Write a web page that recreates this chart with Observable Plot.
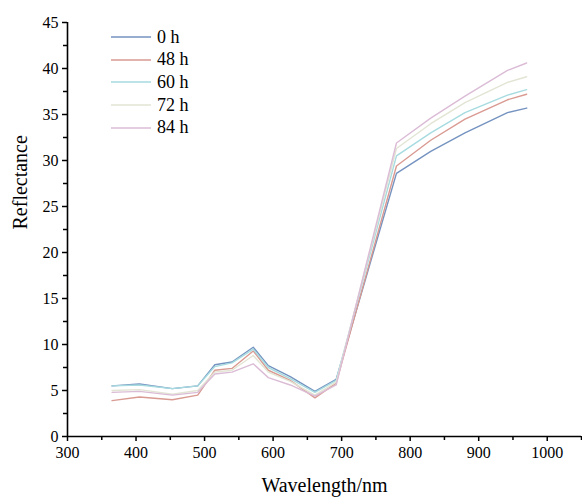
<!DOCTYPE html>
<html>
<head>
<meta charset="utf-8">
<script src="https://cdn.jsdelivr.net/npm/d3@7"></script>
<script src="https://cdn.jsdelivr.net/npm/@observablehq/plot@0.6"></script>
<style>
  html, body { margin: 0; padding: 0; background: #fff; }
  #wrap { position: relative; width: 582px; height: 502px; font-family: 'Liberation Serif', serif; }
  #legend { position: absolute; left: 111px; top: 26px; font-family: 'Liberation Serif', serif; }
  .item { display: flex; align-items: center; height: 22.6px; font-size: 18px; color: #000; }
  .item svg { margin-right: 6px; }
  svg text { font-family: 'Liberation Serif', serif; }
</style>
</head>
<body>
<div id="wrap"><div id="legend"></div></div>
<script>
const wavelengths = [365, 405, 453, 490, 515, 540, 571, 593, 625, 661, 692, 780, 830, 880, 942, 970];
const seriesNames = ["0 h", "48 h", "60 h", "72 h", "84 h"];
const r0  = [5.5, 5.7, 5.2, 5.5, 7.8, 8.1, 9.7, 7.7, 6.5, 4.9, 6.2, 28.6, 31.0, 33.0, 35.2, 35.7];
const r48 = [3.9, 4.3, 4.0, 4.5, 7.2, 7.4, 9.3, 7.2, 6.1, 4.2, 5.8, 29.4, 32.2, 34.5, 36.6, 37.2];
const r60 = [5.5, 5.6, 5.2, 5.5, 7.6, 8.0, 9.5, 7.5, 6.3, 4.8, 6.1, 30.5, 33.0, 35.2, 37.1, 37.7];
const r72 = [5.0, 5.1, 4.6, 5.0, 7.0, 7.2, 8.8, 7.0, 6.0, 4.5, 5.9, 31.3, 34.0, 36.3, 38.5, 39.1];
const r84 = [4.8, 4.9, 4.5, 4.8, 6.8, 7.0, 7.9, 6.4, 5.6, 4.4, 5.6, 31.9, 34.6, 37.0, 39.8, 40.6];
const seriesValues = [r0, r48, r60, r72, r84];
const colors = ["#7593c0", "#d99a92", "#a6dbe0", "#e2e4d4", "#dbbcd6"];
const xTicks = [300, 400, 500, 600, 700, 800, 900, 1000];
const xMinor = [350, 450, 550, 650, 750, 850, 950, 1050];
const yTicks = [0, 5, 10, 15, 20, 25, 30, 35, 40, 45];
const yMinor = [2.5, 7.5, 12.5, 17.5, 22.5, 27.5, 32.5, 37.5, 42.5];

const data = [];
seriesNames.forEach((s, i) => wavelengths.forEach((w, j) => data.push({s, w, v: seriesValues[i][j]})));

const ff = "'Liberation Serif', serif";
const chart = Plot.plot({
  width: 582, height: 502,
  marginLeft: 67, marginRight: 1, marginTop: 22, marginBottom: 66,
  style: {fontFamily: ff, fontSize: "16px", color: "#000", background: "white"},
  x: {type: "linear", domain: [300, 1050], label: null},
  y: {type: "linear", domain: [0, 45], label: null},
  color: {domain: seriesNames, range: colors},
  marks: [
    Plot.line(data, {x: "w", y: "v", z: "s", stroke: "s", strokeWidth: 1.4}),
    Plot.ruleY([0], {stroke: "#000", strokeWidth: 1.6}),
    Plot.ruleX([300], {stroke: "#000", strokeWidth: 1.6}),
    Plot.axisX({ticks: xTicks, tickSize: 5, tickPadding: 5, fontSize: 16, fontFamily: ff, fill: "#000", stroke: "#000", tickFormat: d3.format("d"), label: null, strokeWidth: 1.5}),
    Plot.axisX({ticks: xMinor, tickSize: 4, tickFormat: () => "", label: null, stroke: "#000", strokeWidth: 1.5}),
    Plot.axisY({ticks: yTicks, tickSize: 5, tickPadding: 4, fontSize: 16, fontFamily: ff, fill: "#000", stroke: "#000", tickFormat: d3.format("d"), label: null, strokeWidth: 1.5}),
    Plot.axisY({ticks: yMinor, tickSize: 4, tickFormat: () => "", label: null, stroke: "#000", strokeWidth: 1.5}),
    Plot.text(["Wavelength/nm"], {frameAnchor: "bottom", dy: 55, fontSize: 20, fontFamily: ff, fill: "#000"}),
    Plot.text(["Reflectance"], {frameAnchor: "left", dx: -47, rotate: -90, fontSize: 20, fontFamily: ff, fill: "#000"})
  ]
});
document.getElementById("wrap").prepend(chart);
chart.style.position = "absolute"; chart.style.left = "0"; chart.style.top = "0";

const legend = document.getElementById("legend");
seriesNames.forEach((s, i) => {
  const row = document.createElement("div");
  row.className = "item";
  row.innerHTML = `<svg width="40" height="4"><line x1="0" y1="2" x2="40" y2="2" stroke="${colors[i]}" stroke-width="1.5"/></svg><span>${s}</span>`;
  legend.appendChild(row);
});
</script>
</body>
</html>
